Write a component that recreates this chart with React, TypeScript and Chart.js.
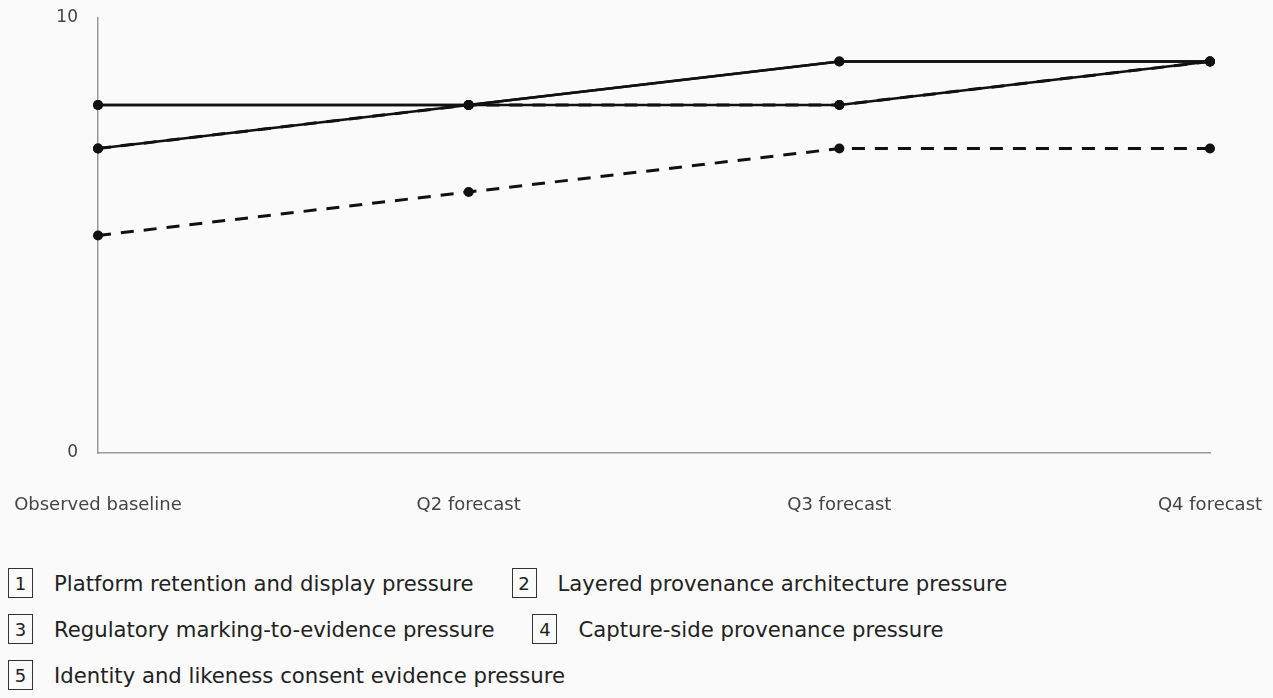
import React, { useEffect, useRef } from "react";
import { Chart, registerables } from "chart.js";

Chart.register(...registerables);

const categories = ["Observed baseline", "Q2 forecast", "Q3 forecast", "Q4 forecast"];
const seriesNames = [
  "Platform retention and display pressure",
  "Layered provenance architecture pressure",
  "Regulatory marking-to-evidence pressure",
  "Capture-side provenance pressure",
  "Identity and likeness consent evidence pressure",
];
const platformRetention = [8, 8, 8, 9];
const layeredProvenance = [7, 8, 9, 9];
const regulatoryMarking = [7, 8, 8, 9];
const captureSide = [5, 6, 7, 7];
const identityLikeness = [8, 8, 9, 9];
const seriesDashed = [false, false, true, true, false];
const yTicks = [0, 10];

const INK = "#111111";
const CANVAS_H = 530;

export default function App() {
  const canvasRef = useRef<HTMLCanvasElement | null>(null);

  useEffect(() => {
    document.body.style.background = "#fafafa";
    const values = [platformRetention, layeredProvenance, regulatoryMarking, captureSide, identityLikeness];
    const chart = new Chart(canvasRef.current as HTMLCanvasElement, {
      type: "line",
      data: {
        labels: categories,
        datasets: values.map((v, i) => ({
          label: seriesNames[i],
          data: v,
          borderColor: INK,
          backgroundColor: INK,
          borderWidth: seriesDashed[i] ? 3 : 2.6,
          borderDash: seriesDashed[i] ? [13, 10] : [],
          pointRadius: 5,
          pointBorderWidth: 0,
          pointBackgroundColor: INK,
          tension: 0,
          fill: false,
        })),
      },
      options: {
        animation: false,
        responsive: true,
        maintainAspectRatio: false,
        layout: { padding: 0 },
        plugins: { legend: { display: false }, tooltip: { enabled: false } },
        scales: {
          x: {
            grid: { display: false, drawTicks: false },
            border: { display: true, color: "#999999", width: 1.5 },
            ticks: { color: "#444444", font: { family: "DejaVu Sans", size: 18 }, padding: 42, maxRotation: 0, autoSkip: false },
            afterFit: (axis: any) => {
              axis.height = CANVAS_H - 445;
              axis.paddingLeft = 0;
              axis.paddingRight = 55;
            },
          },
          y: {
            min: yTicks[0],
            max: yTicks[yTicks.length - 1],
            grid: { display: false, drawTicks: false },
            border: { display: true, color: "#999999", width: 1.5 },
            afterBuildTicks: (axis: any) => {
              axis.ticks = yTicks.map((v) => ({ value: v }));
            },
            ticks: { color: "#444444", font: { family: "DejaVu Sans", size: 17 }, padding: 20 },
            afterFit: (axis: any) => {
              axis.width = 90;
              axis.paddingTop = 10;
              axis.paddingBottom = 0;
            },
          },
        },
      },
    });
    return () => chart.destroy();
  }, []);

  return (
    <div style={{ fontFamily: "'DejaVu Sans', sans-serif", color: "#222" }}>
      <div style={{ position: "relative", width: 1257, height: CANVAS_H }}>
        <canvas ref={canvasRef} />
      </div>
      <div
        style={{
          display: "flex",
          flexWrap: "wrap",
          columnGap: 38,
          rowGap: 16,
          marginTop: 30,
          width: 1257,
        }}
      >
        {seriesNames.map((name, i) => (
          <div key={name} style={{ display: "flex", alignItems: "center", height: 30 }}>
            <span
              style={{
                display: "inline-flex",
                alignItems: "center",
                justifyContent: "center",
                boxSizing: "border-box",
                width: 25,
                height: 30,
                border: "1.5px solid #333",
                fontSize: 18,
                marginRight: 21,
              }}
            >
              {i + 1}
            </span>
            <span style={{ fontSize: 21.2 }}>{name}</span>
          </div>
        ))}
      </div>
    </div>
  );
}
